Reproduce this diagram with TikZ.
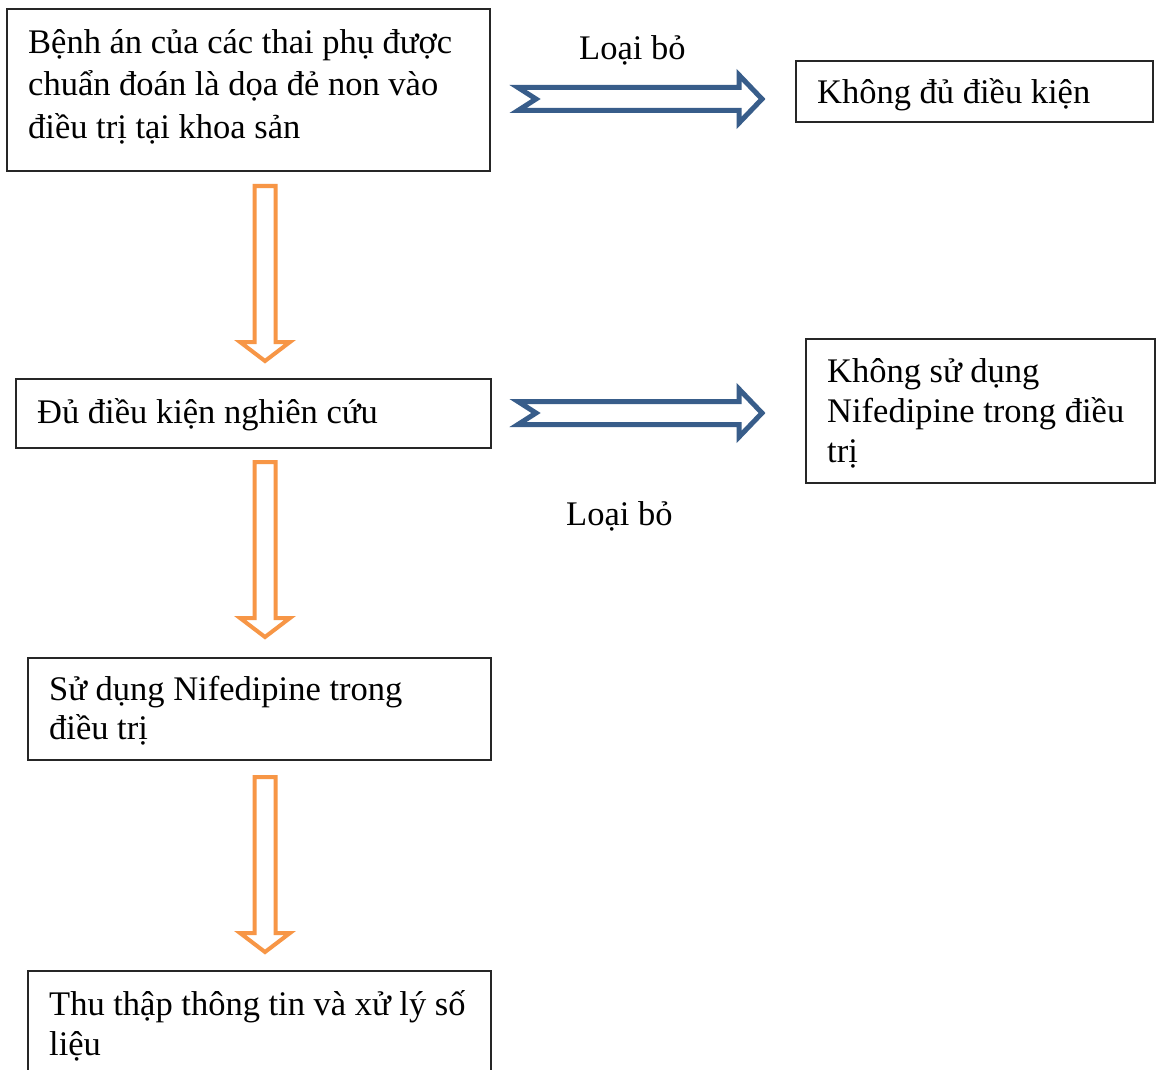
\documentclass[tikz,border=0pt]{standalone}
\usepackage{fontspec}
\setmainfont{Liberation Serif}
\definecolor{arrowblue}{RGB}{56,93,138}
\definecolor{arroworange}{RGB}{247,150,70}
\begin{document}
\begin{tikzpicture}[x=1pt,y=-1pt,
  box/.style={draw=black!85, line width=1.3pt, anchor=north west, inner sep=0pt, outer sep=0pt},
  txt/.style={anchor=base west, inner sep=0pt, font=\fontsize{34.5}{40}\selectfont},
  oline/.style={draw=arroworange, line width=4pt, fill=white, line join=miter},
  bline/.style={draw=arrowblue, line width=5pt, fill=white, line join=miter},
  oarrow/.pic={\path[oline] (-10.5,0) -- (-10.5,156) -- (-25,156) -- (0,175) -- (25,156) -- (10.5,156) -- (10.5,0) -- cycle;},
  barrow/.pic={\path[bline] (0,-11.5) -- (221,-11.5) -- (221,-24) -- (244,0) -- (221,24) -- (221,11.5) -- (0,11.5) -- (18,0) -- cycle;}
]
\useasboundingbox[fill=white] (0,0) rectangle (1157,1070);

% boxes
\node[box, minimum width=483pt, minimum height=162pt] (b1) at (7,9) {};
\node[box, minimum width=357pt, minimum height=61pt] (b2) at (796,61) {};
\node[box, minimum width=475pt, minimum height=69pt] (b3) at (16,379) {};
\node[box, minimum width=349pt, minimum height=144pt] (b4) at (806,339) {};
\node[box, minimum width=463pt, minimum height=102pt] (b5) at (28,658) {};
\node[box, minimum width=463pt, minimum height=120pt] (b6) at (28,971) {};

% texts
\node[txt] (t1a) at (28,54) {Bệnh án của các thai phụ được};
\node[txt] (t1b) at (28,96) {chuẩn đoán là dọa đẻ non vào};
\node[txt] (t1c) at (28,139) {điều trị tại khoa sản};
\node[txt] (t2) at (817,104) {Không đủ điều kiện};
\node[txt] (l1) at (579,60) {Loại bỏ};
\node[txt] (t3) at (37,423) {Đủ điều kiện nghiên cứu};
\node[txt] (t4a) at (827,382) {Không sử dụng};
\node[txt] (t4b) at (827,422) {Nifedipine trong điều};
\node[txt] (t4c) at (827,462) {trị};
\node[txt] (l2) at (566,525) {Loại bỏ};
\node[txt] (t5a) at (49,700) {Sử dụng Nifedipine trong};
\node[txt] (t5b) at (49,739) {điều trị};
\node[txt] (t6a) at (49,1015) {Thu thập thông tin và xử lý số};
\node[txt] (t6b) at (49,1055) {liệu};

% arrows
\coordinate (o1) at (265,186);
\coordinate (o2) at (265,462);
\coordinate (o3) at (265,777);
\coordinate (h1) at (518,99);
\coordinate (h2) at (518,413);
\pic at (o1) {oarrow};
\pic at (o2) {oarrow};
\pic at (o3) {oarrow};
\pic at (h1) {barrow};
\pic at (h2) {barrow};
\end{tikzpicture}
\end{document}
